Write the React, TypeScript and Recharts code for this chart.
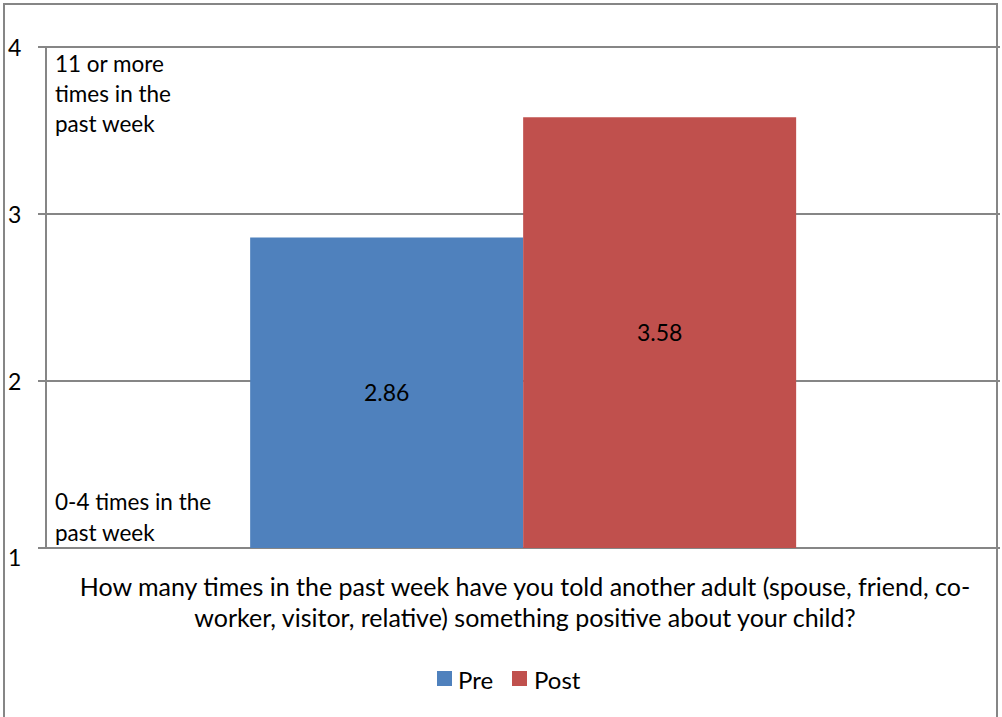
import { BarChart, Bar, XAxis, YAxis, CartesianGrid, LabelList } from 'recharts';

const categories = ['How many times in the past week have you told another adult (spouse, friend, co-worker, visitor, relative) something positive about your child?'];
const preValues = [2.86];
const postValues = [3.58];
const yTicks = [1, 2, 3, 4];
const titleLines = [
  'How many times in the past week have you told another adult (spouse, friend, co-',
  'worker, visitor, relative) something positive about your child?',
];
const topNote = ['11 or more', 'times in the', 'past week'];
const bottomNote = ['0-4 times in the', 'past week'];

const data = categories.map((c, i) => ({ name: c, pre: preValues[i], post: postValues[i] }));

const FONT = 'Lato, Carlito, Calibri, sans-serif';
const FS = 23;
const GRID = '#868686';

function YTick(props: any) {
  const { y, payload } = props;
  const dy = payload.value === 1 ? 9 : 0;
  return (
    <text x={8} y={y + dy} dominantBaseline="central" fontSize={FS} fill="#000" fontFamily={FONT}>
      {payload.value}
    </text>
  );
}

export default function App() {
  return (
    <div style={{ position: 'absolute', left: 0, top: 0, width: 1002, height: 717, background: '#fff', overflow: 'hidden', fontFamily: FONT }}>
      <div style={{ position: 'absolute', left: 3, top: 3, width: 995, height: 730, border: `2px solid ${GRID}`, boxSizing: 'border-box' }} />
      <BarChart
        width={1002}
        height={717}
        data={data}
        margin={{ top: 47, right: 2, bottom: 169, left: 2 }}
        barCategoryGap="21.4%"
        barGap={0}
        style={{ position: 'absolute', left: 0, top: 0 }}
      >
        <CartesianGrid vertical={false} stroke={GRID} strokeWidth={2} />
        <XAxis dataKey="name" tick={false} tickLine={false} axisLine={{ stroke: GRID, strokeWidth: 2 }} height={0} />
        <YAxis
          domain={[1, 4]}
          ticks={yTicks}
          width={44}
          tickSize={8}
          tickLine={{ stroke: GRID, strokeWidth: 2 }}
          axisLine={{ stroke: GRID, strokeWidth: 2 }}
          tick={<YTick />}
          interval={0}
        />
        <Bar dataKey="pre" fill="#4F81BD" isAnimationActive={false}>
          <LabelList dataKey="pre" position="center" fill="#000" fontSize={FS} fontFamily={FONT} formatter={(v: any) => Number(v).toFixed(2)} />
        </Bar>
        <Bar dataKey="post" fill="#C0504D" isAnimationActive={false}>
          <LabelList dataKey="post" position="center" fill="#000" fontSize={FS} fontFamily={FONT} formatter={(v: any) => Number(v).toFixed(2)} />
        </Bar>
      </BarChart>
      <svg width={1002} height={717} style={{ position: 'absolute', left: 0, top: 0, pointerEvents: 'none' }}>
        {topNote.map((t, i) => (
          <text key={t} x={55} y={63 + i * 30} dominantBaseline="central" fontSize={22.5} fontFamily={FONT} fill="#000">{t}</text>
        ))}
        {bottomNote.map((t, i) => (
          <text key={t} x={55} y={501 + i * 31} dominantBaseline="central" fontSize={22.5} fontFamily={FONT} fill="#000">{t}</text>
        ))}
        {titleLines.map((t, i) => (
          <text key={t} x={525} y={586 + i * 31} textAnchor="middle" dominantBaseline="central" fontSize={25} fontFamily={FONT} fill="#000">{t}</text>
        ))}
        <rect x={437} y={671} width={15} height={15} fill="#4F81BD" />
        <text x={458} y={679} dominantBaseline="central" fontSize={24} fontFamily={FONT} fill="#000">Pre</text>
        <rect x={512} y={671} width={15} height={15} fill="#C0504D" />
        <text x={534} y={679} dominantBaseline="central" fontSize={24} fontFamily={FONT} fill="#000">Post</text>
      </svg>
    </div>
  );
}
